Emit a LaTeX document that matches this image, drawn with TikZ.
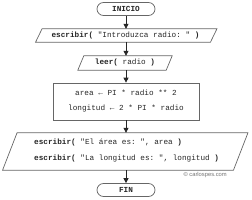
\documentclass[tikz,border=0pt]{standalone}
\usepackage{fontspec}
\setmainfont{Liberation Serif}
\setmonofont{Liberation Mono}
\setsansfont{Liberation Sans}
\usetikzlibrary{shapes.misc,calc,arrows.meta}
\tikzset{
  code/.style={font=\fontsize{7.7}{9}\selectfont\ttfamily, text=black!85, inner sep=0pt},
  term/.style={rounded rectangle, draw=black!60, line width=0.7pt, minimum width=58pt, minimum height=13pt, inner sep=0pt, font=\fontsize{7.7}{9}\selectfont\ttfamily\bfseries, text=black!85},
  frame/.style={draw=black!60, line width=0.7pt},
  flow/.style={draw=black!85, line width=0.8pt, -{Triangle[width=5pt,length=5pt]}},
  area/.style={inner sep=0pt, draw=none},
}
\begin{document}
\begin{tikzpicture}[x=1pt,y=-1pt]
\useasboundingbox (0,0) rectangle (252,200);
% start
\node[term] (ini) at (126,9) {INICIO};
% output 1
\node[area, minimum width=174.5pt, minimum height=13pt] (p1) at (126.25,35.5) {};
\draw[frame] ($(p1.north west)+(3.25,0)$) -- ($(p1.north east)+(3.25,0)$) -- ($(p1.south east)-(3.25,0)$) -- ($(p1.south west)-(3.25,0)$) -- cycle;
\node[code] (t1) at (125.5,35.5) {\textbf{escribir(} "Introduzca radio: " \textbf{)}};
% input
\node[area, minimum width=88pt, minimum height=14pt] (p2) at (125,63) {};
\draw[frame] ($(p2.north west)+(3,0)$) -- ($(p2.north east)+(3,0)$) -- ($(p2.south east)-(3,0)$) -- ($(p2.south west)-(3,0)$) -- cycle;
\node[code] (t2) at (125,63) {\textbf{leer(} radio \textbf{)}};
% process
\node[frame, area, draw=black!60, minimum width=146pt, minimum height=37pt] (r) at (126,101.5) {};
\node[code] (r1) at (126,93) {area ← PI * radio ** 2};
\node[code] (r2) at (126,109) {longitud ← 2 * PI * radio};
% output 2
\node[area, minimum width=230.5pt, minimum height=37pt] (p3) at (125.25,151.5) {};
\draw[frame] ($(p3.north west)+(7.25,0)$) -- ($(p3.north east)+(7.25,0)$) -- ($(p3.south east)-(7.25,0)$) -- ($(p3.south west)-(7.25,0)$) -- cycle;
\node[code, anchor=west] (s1) at (34,143) {\textbf{escribir(} "El área es: ", area \textbf{)}};
\node[code, anchor=west] (s2) at (34,159) {\textbf{escribir(} "La longitud es: ", longitud \textbf{)}};
\node[font=\fontsize{5.8}{7}\selectfont\sffamily, text=black!55, anchor=east, inner sep=0pt] (cp) at (227,175) {© carlospes.com};
% end
\node[term] (fin) at (126,190) {FIN};
% connectors
\draw[flow] (ini.south) -- (ini.south |- p1.north);
\draw[flow] (ini.south |- p1.south) -- (ini.south |- p2.north);
\draw[flow] (ini.south |- p2.south) -- (ini.south |- r.north);
\draw[flow] (ini.south |- r.south) -- (ini.south |- p3.north);
\draw[flow] (ini.south |- p3.south) -- (fin.north);
\end{tikzpicture}
\end{document}
